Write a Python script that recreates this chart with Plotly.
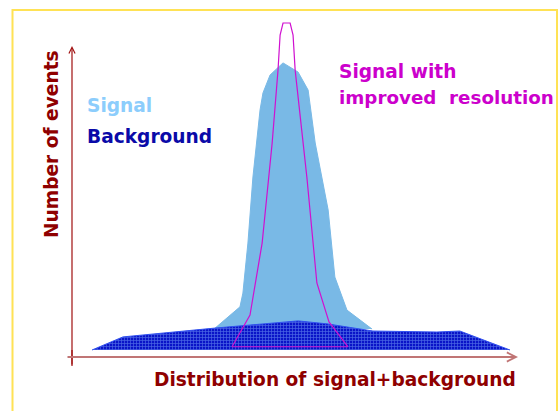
import plotly.graph_objects as go

# ---- data (arbitrary units: position along the distribution, number of events) ----
background_x = [0, 7.4, 29.4, 37.8, 49.3, 56.2, 67.2, 82.5, 88.0, 100]
background_y = [0, 4.0, 6.7, 7.7, 8.9, 8.0, 5.8, 5.5, 5.8, 0]

# signal stacked on top of background (total height)
signal_x = [28.9, 35.4, 36.1, 37.3, 38.5, 40.2, 40.9, 42.6, 45.7, 49.3, 51.7, 53.4, 56.5, 58.1, 61.0, 64.1, 67.0]
signal_y = [6.1, 13.2, 17.4, 32.7, 52.9, 73.4, 78.6, 84.1, 87.8, 85.0, 79.5, 63.3, 42.8, 22.3, 12.2, 9.2, 6.4]

# signal with improved resolution (outline)
improved_x = [33.5, 37.8, 40.7, 43.1, 44.5, 45.0, 45.7, 47.4, 48.1, 48.6, 51.4, 53.8, 56.7, 61.2, 33.5]
improved_y = [1.0, 10.7, 32.7, 63.3, 85.6, 96.3, 100, 100, 96.3, 85.6, 52.9, 20.5, 8.6, 1.0, 1.0]

labels = {
    "signal": "Signal",
    "background": "Background",
    "improved": ["Signal with", "improved  resolution"],
    "xtitle": "Distribution of signal+background",
    "ytitle": "Number of events",
}

W, H = 560, 411
FONT = "DejaVu Sans"
FS = 18.6
DARKRED = "#8f0000"

fig = go.Figure()

fig.add_trace(go.Scatter(
    x=signal_x, y=signal_y, mode="lines", fill="toself",
    fillcolor="#79b9e6", line=dict(color="#79b9e6", width=1),
    hoverinfo="skip", showlegend=False))

fig.add_trace(go.Scatter(
    x=background_x, y=background_y, mode="lines", fill="toself",
    fillcolor="#1020d0",
    fillpattern=dict(shape="+", size=3, solidity=0.4,
                     fgcolor="#8cbcff", bgcolor="#0a14c8"),
    line=dict(color="#3050f0", width=1),
    hoverinfo="skip", showlegend=False))

fig.add_trace(go.Scatter(
    x=improved_x, y=improved_y, mode="lines",
    line=dict(color="#d010d0", width=1.2),
    hoverinfo="skip", showlegend=False))

def px(x):
    return x / W

def py(y):
    return 1 - y / H

def label(x, y, text, color, xanchor="left", angle=0, size=FS):
    return dict(x=px(x), y=py(y), xref="paper", yref="paper", showarrow=False,
                xanchor=xanchor, yanchor="middle", text=text, textangle=angle,
                font=dict(family=FONT, size=size, color=color, weight="bold"))

ann = []
# axis arrows
ann.append(dict(x=px(72), y=py(46), xref="paper", yref="paper",
                ax=0, ay=320, showarrow=True, arrowhead=5, arrowsize=1,
                arrowwidth=1.2, arrowcolor="#a01010", text=""))
ann.append(dict(x=px(518), y=py(357), xref="paper", yref="paper",
                ax=-452, ay=0, showarrow=True, arrowhead=5, arrowsize=0.9,
                arrowwidth=2, arrowcolor="#c07575", text=""))

ann.append(label(85, 105, labels["signal"], "#8ccdfc"))
ann.append(label(85, 137, labels["background"], "#0a0aa8"))
ann.append(label(337, 71, labels["improved"][0], "#cc00cc"))
ann.append(label(337, 97, labels["improved"][1], "#cc00cc", size=18.3))
ann.append(label(152, 379, labels["xtitle"], DARKRED))
ann.append(label(51, 144, labels["ytitle"], DARKRED, xanchor="center", angle=-90))

shapes = [
    # yellow frame
    dict(type="rect", xref="paper", yref="paper", x0=px(12.5), x1=px(557), y0=py(430), y1=py(10),
         line=dict(color="#ffe255", width=2)),
    # y axis extension below the x axis
    dict(type="line", xref="paper", yref="paper", x0=px(72), x1=px(72), y0=py(366), y1=py(350),
         line=dict(color="#a01010", width=1.2)),
]

x_lo = (0 - 92) / 4.18
x_hi = (W - 92) / 4.18
y_lo = (350 - H) / 3.27
y_hi = 350 / 3.27

fig.update_layout(
    width=W, height=H, autosize=False,
    margin=dict(l=0, r=0, t=0, b=0),
    paper_bgcolor="white", plot_bgcolor="white",
    xaxis=dict(range=[x_lo, x_hi], visible=False, fixedrange=True),
    yaxis=dict(range=[y_lo, y_hi], visible=False, fixedrange=True),
    annotations=ann, shapes=shapes,
)

fig.write_html(
    "out.html",
    config={"displayModeBar": False, "staticPlot": True},
    post_script="document.body.style.margin='0';document.body.style.overflow='hidden';",
)
